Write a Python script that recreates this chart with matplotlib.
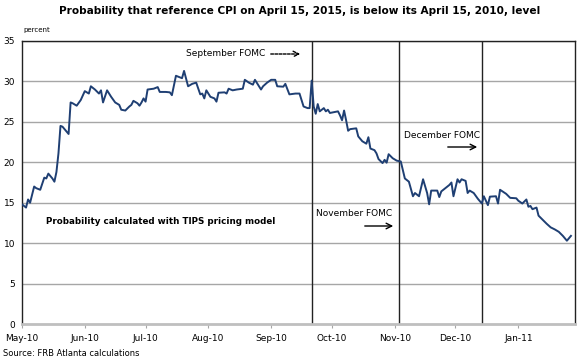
import matplotlib
matplotlib.use("Agg")
import matplotlib.pyplot as plt
import matplotlib.dates as mdates
import pandas as pd

# -----------------------------
# Data
# -----------------------------
dates = [
    "2010-05-01", "2010-05-03", "2010-05-04", "2010-05-05", "2010-05-07",
    "2010-05-08", "2010-05-10", "2010-05-12", "2010-05-13", "2010-05-14",
    "2010-05-16", "2010-05-17", "2010-05-18", "2010-05-19", "2010-05-20",
    "2010-05-21", "2010-05-23", "2010-05-24", "2010-05-25", "2010-05-26",
    "2010-05-28", "2010-05-30", "2010-06-01", "2010-06-03", "2010-06-04",
    "2010-06-06", "2010-06-08", "2010-06-09", "2010-06-10", "2010-06-12",
    "2010-06-14", "2010-06-16", "2010-06-18", "2010-06-19", "2010-06-21",
    "2010-06-23", "2010-06-24", "2010-06-25", "2010-06-27", "2010-06-28",
    "2010-06-29", "2010-06-30", "2010-07-01", "2010-07-02", "2010-07-05",
    "2010-07-07", "2010-07-08", "2010-07-11", "2010-07-13", "2010-07-14",
    "2010-07-16", "2010-07-18", "2010-07-19", "2010-07-20", "2010-07-22",
    "2010-07-24", "2010-07-26", "2010-07-28", "2010-07-29", "2010-07-30",
    "2010-07-31", "2010-08-01", "2010-08-02", "2010-08-04", "2010-08-05",
    "2010-08-06", "2010-08-09", "2010-08-10", "2010-08-11", "2010-08-13",
    "2010-08-15", "2010-08-18", "2010-08-19", "2010-08-21", "2010-08-23",
    "2010-08-24", "2010-08-27", "2010-08-28", "2010-08-30", "2010-09-01",
    "2010-09-03", "2010-09-04", "2010-09-07", "2010-09-08", "2010-09-10",
    "2010-09-13", "2010-09-15", "2010-09-17", "2010-09-19", "2010-09-20",
    "2010-09-21", "2010-09-22", "2010-09-23", "2010-09-24", "2010-09-25",
    "2010-09-27", "2010-09-28", "2010-09-29", "2010-09-30", "2010-10-02",
    "2010-10-04", "2010-10-05", "2010-10-06", "2010-10-07", "2010-10-08",
    "2010-10-09", "2010-10-10", "2010-10-13", "2010-10-14", "2010-10-16",
    "2010-10-18", "2010-10-19", "2010-10-20", "2010-10-22", "2010-10-23",
    "2010-10-24", "2010-10-26", "2010-10-27", "2010-10-28", "2010-10-29",
    "2010-10-31", "2010-11-02", "2010-11-04", "2010-11-06", "2010-11-08",
    "2010-11-10", "2010-11-11", "2010-11-13", "2010-11-15", "2010-11-17",
    "2010-11-18", "2010-11-19", "2010-11-22", "2010-11-23", "2010-11-24",
    "2010-11-28", "2010-11-29", "2010-11-30", "2010-12-02", "2010-12-03",
    "2010-12-04", "2010-12-06", "2010-12-07", "2010-12-08", "2010-12-10",
    "2010-12-12", "2010-12-14", "2010-12-15", "2010-12-17", "2010-12-18",
    "2010-12-21", "2010-12-22", "2010-12-23", "2010-12-26", "2010-12-28",
    "2010-12-31", "2011-01-01", "2011-01-03", "2011-01-05", "2011-01-06",
    "2011-01-07", "2011-01-08", "2011-01-10", "2011-01-11", "2011-01-13",
    "2011-01-15", "2011-01-17", "2011-01-19", "2011-01-21", "2011-01-23",
    "2011-01-25", "2011-01-27",
]
probability = [
    14.8, 14.4, 15.4, 15.0, 17.0,
    16.8, 16.6, 18.1, 18.0, 18.6,
    18.0, 17.6, 18.8, 21.1, 24.5,
    24.4, 23.8, 23.5, 27.4, 27.3,
    27.0, 27.7, 28.8, 28.5, 29.4,
    29.0, 28.5, 28.9, 27.4, 28.9,
    28.1, 27.4, 27.1, 26.5, 26.4,
    26.9, 27.1, 27.6, 27.3, 27.0,
    27.4, 27.9, 27.5, 29.0, 29.1,
    29.3, 28.7, 28.7, 28.65, 28.3,
    30.7, 30.5, 30.4, 31.3, 29.4,
    29.7, 29.85, 28.4, 28.5, 27.9,
    28.9, 28.5, 28.1, 27.9, 27.5,
    28.6, 28.65, 28.5, 29.1, 28.9,
    29.0, 29.1, 30.2, 29.85, 29.6,
    30.2, 29.0, 29.4, 29.85, 30.2,
    30.2, 29.4, 29.35, 29.7, 28.4,
    28.5, 28.5, 26.9, 26.7, 26.7,
    30.1, 26.9, 26.0, 27.2, 26.3,
    26.7, 26.3, 26.5, 26.1, 26.2,
    26.3, 25.8, 25.2, 26.4, 25.2,
    23.9, 24.1, 24.2, 23.2, 22.6,
    22.3, 23.1, 21.7, 21.5, 21.1,
    20.4, 19.9, 20.3, 19.95, 21.0,
    20.5, 20.2, 20.1, 18.0, 17.6,
    15.8, 16.2, 15.8, 17.9, 16.2,
    14.8, 16.5, 16.5, 15.7, 16.4,
    17.2, 17.5, 15.8, 17.9, 17.5,
    17.9, 17.7, 16.2, 16.5, 16.2,
    15.5, 14.9, 15.8, 14.7, 15.75,
    15.8, 14.9, 16.6, 16.1, 15.6,
    15.55, 15.25, 14.9, 15.4, 14.5,
    14.6, 14.2, 14.4, 13.4, 12.9,
    12.4, 11.95, 11.7, 11.4, 10.9,
    10.3, 10.9,
]

fomc_dates = ["2010-09-21", "2010-11-03", "2010-12-14"]
month_ticks = pd.date_range("2010-05-01", "2011-01-01", freq="MS")
y_ticks = [0, 5, 10, 15, 20, 25, 30, 35]

x = pd.to_datetime(dates)

# -----------------------------
# Figure layout (pixel based, 580 x 361)
# -----------------------------
W, H = 580, 361
fig = plt.figure(figsize=(W / 100, H / 100), dpi=100)
fig.patch.set_facecolor("white")


def px(xp, yp):
    return xp / W, 1 - yp / H


ax = fig.add_axes([22 / W, 1 - 324 / H, (575 - 22) / W, (324 - 41) / H])

# gridlines
for yv in y_ticks[1:]:
    ax.axhline(yv, color="#a6a6a6", linewidth=1, zorder=1)

# FOMC meeting lines
for d in fomc_dates:
    ax.axvline(pd.Timestamp(d), color="#222222", linewidth=1, zorder=2)

ax.plot(x, probability, color="#1f3f73", linewidth=1.4, zorder=3)

ax.set_xlim(pd.Timestamp("2010-05-01"), pd.Timestamp("2011-01-29"))
ax.set_ylim(0, 35)
ax.set_yticks(y_ticks)
ax.set_xticks(month_ticks)
ax.xaxis.set_major_formatter(mdates.DateFormatter("%b-%y"))
ax.tick_params(axis="y", length=0, labelsize=6.5, pad=5)
ax.tick_params(axis="x", length=3, color="#a6a6a6", labelsize=6.5, pad=4)

for side in ["left", "right", "top"]:
    ax.spines[side].set_color("#222222")
    ax.spines[side].set_linewidth(1)
ax.spines["bottom"].set_color("#bfbfbf")
ax.spines["bottom"].set_linewidth(2)

# -----------------------------
# Texts
# -----------------------------
fig.text(*px(300, 11),
         "Probability that reference CPI on April 15, 2015, is below its April 15, 2010, level",
         ha="center", va="center", fontsize=7.6, fontweight="bold")
fig.text(*px(23, 30), "percent", ha="left", va="center", fontsize=5)
fig.text(*px(3, 353), "Source: FRB Atlanta calculations",
         ha="left", va="center", fontsize=6)

fig.text(*px(46, 221), "Probability calculated with TIPS pricing model",
         ha="left", va="center", fontsize=6.3, fontweight="bold")

fig.text(*px(186, 54), "September FOMC", ha="left", va="center", fontsize=6.5)
ax.annotate("", xy=px(303, 54), xytext=px(268, 54),
            xycoords="figure fraction", textcoords="figure fraction",
            arrowprops=dict(arrowstyle="->", color="black", lw=1,
                            linestyle=(0, (2, 1))))

fig.text(*px(404, 136), "December FOMC", ha="left", va="center", fontsize=6.5)
ax.annotate("", xy=px(480, 147), xytext=px(445, 147),
            xycoords="figure fraction", textcoords="figure fraction",
            arrowprops=dict(arrowstyle="->", color="black", lw=1))

fig.text(*px(316, 214), "November FOMC", ha="left", va="center", fontsize=6.5)
ax.annotate("", xy=px(396, 226), xytext=px(362, 226),
            xycoords="figure fraction", textcoords="figure fraction",
            arrowprops=dict(arrowstyle="->", color="black", lw=1))

fig.savefig("out.png", dpi=100)
